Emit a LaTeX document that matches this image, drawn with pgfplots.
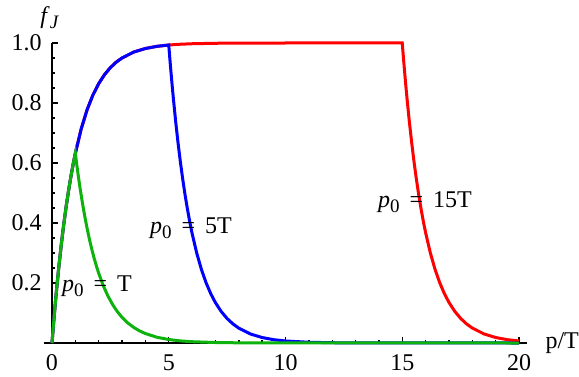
\documentclass[border=0pt]{standalone}
\usepackage{pgfplots}
\pgfplotsset{compat=1.18}
\usepackage{fontspec}
\setmainfont{Liberation Serif}
\definecolor{mgreen}{rgb}{0.05,0.7,0.05}
\newcommand{\sub}[1]{\raisebox{-2.5pt}{\fontsize{9.5}{10}\selectfont #1}}
\begin{document}
\fontsize{12}{14}\selectfont
\begin{tikzpicture}
\begin{axis}[
  x=11.675pt, y=150pt,
  axis lines=middle,
  axis line style={-, line width=0.7pt},
  xmin=-0.35, xmax=20.35, ymin=0, ymax=1,
  xtick={0,5,10,15,20},
  ytick={0.2,0.4,0.6,0.8,1.0},
  minor x tick num=4,
  minor y tick num=3,
  tick align=inside,
  hide obscured x ticks=false,
  major tick length=2.8pt,
  minor tick length=1.5pt,
  tick style={black, line width=0.7pt},
  /pgf/number format/assume math mode=true,
  yticklabel style={/pgf/number format/fixed, /pgf/number format/fixed zerofill, /pgf/number format/precision=1, font=\fontsize{12}{14}\selectfont, anchor=east, xshift=-1pt},
  xticklabel style={font=\fontsize{12}{14}\selectfont, anchor=north, yshift=-1.5pt},
  clip=false,
  every axis plot/.append style={line width=1.5pt},
]
\addplot[red] coordinates {
(0,0) (0.05,0.0488) (0.1,0.0952) (0.15,0.1393) (0.2,0.1813) (0.3,0.2592) (0.4,0.3297) (0.5,0.3935) (0.6,0.4512) (0.7,0.5034) (0.8,0.5507) (0.9,0.5934) (1,0.6321) (1.25,0.7135) (1.5,0.7769) (1.75,0.8262) (2,0.8647) (2.25,0.8946) (2.5,0.9179) (2.75,0.9361) (3,0.9502) (3.5,0.9698) (4,0.9817) (4.5,0.9889) (5,0.9933) (5.5,0.9959) (6,0.9975) (7,0.9991) (8,0.9997) (9,0.9999) (10,1.0) (15,1.0)
(15.05,0.9512) (15.1,0.9048) (15.15,0.8607) (15.2,0.8187) (15.3,0.7408) (15.4,0.6703) (15.5,0.6065) (15.6,0.5488) (15.7,0.4966) (15.8,0.4493) (15.9,0.4066) (16,0.3679) (16.2,0.3012) (16.4,0.2466) (16.6,0.2019) (16.8,0.1653) (17,0.1353) (17.25,0.1054) (17.5,0.0821) (17.75,0.0639) (18,0.0498) (18.5,0.0302) (19,0.0183) (19.5,0.0111) (20,0.0067)
};
\addplot[blue] coordinates {
(0,0) (0.05,0.0488) (0.1,0.0952) (0.15,0.1393) (0.2,0.1813) (0.3,0.2592) (0.4,0.3297) (0.5,0.3935) (0.6,0.4512) (0.7,0.5034) (0.8,0.5507) (0.9,0.5934) (1,0.6321) (1.25,0.7135) (1.5,0.7769) (1.75,0.8262) (2,0.8647) (2.25,0.8946) (2.5,0.9179) (2.75,0.9361) (3,0.9502) (3.5,0.9698) (4,0.9817) (4.5,0.9889) (5,0.9933)
(5.05,0.9448) (5.1,0.8988) (5.15,0.8549) (5.2,0.8132) (5.3,0.7358) (5.4,0.6658) (5.5,0.6024) (5.6,0.5451) (5.7,0.4933) (5.8,0.4463) (5.9,0.4039) (6,0.3654) (6.2,0.2992) (6.4,0.2449) (6.6,0.2005) (6.8,0.1642) (7,0.1344) (7.25,0.1047) (7.5,0.0815) (7.75,0.0635) (8,0.0495) (8.5,0.0300) (9,0.0182) (9.5,0.0110) (10,0.0067) (11,0.0025) (12,0.0009) (13,0.0003) (14,0.0001) (20,0)
};
\addplot[mgreen] coordinates {
(0,0) (0.05,0.0488) (0.1,0.0952) (0.15,0.1393) (0.2,0.1813) (0.3,0.2592) (0.4,0.3297) (0.5,0.3935) (0.6,0.4512) (0.7,0.5034) (0.8,0.5507) (0.9,0.5934) (1,0.6321)
(1.05,0.6013) (1.1,0.5719) (1.15,0.5440) (1.2,0.5175) (1.3,0.4683) (1.4,0.4237) (1.5,0.3834) (1.6,0.3469) (1.7,0.3139) (1.8,0.2840) (1.9,0.2570) (2,0.2325) (2.2,0.1904) (2.4,0.1559) (2.6,0.1276) (2.8,0.1045) (3,0.0855) (3.25,0.0666) (3.5,0.0519) (3.75,0.0404) (4,0.0315) (4.5,0.0191) (5,0.0116) (5.5,0.0070) (6,0.0043) (7,0.0016) (8,0.0006) (10,0.0001) (20,0)
};
\node at (axis cs:1.93,0.19) {\textit{p}\sub{0}\hspace{5pt}=\hspace{5pt}T};
\node at (axis cs:5.95,0.383) {\textit{p}\sub{0}\hspace{5pt}=\hspace{5pt}5T};
\node at (axis cs:15.97,0.47) {\textit{p}\sub{0}\hspace{5pt}=\hspace{5pt}15T};
\node at (axis cs:-0.1,1) [anchor=south, yshift=3pt] {\textit{f}\sub{\textit{J}}};
\node at (axis cs:20.35,0) [anchor=west, xshift=5pt] {p/T};
\coordinate (O) at (axis cs:0,0);
\end{axis}
\pgfresetboundingbox
\path[use as bounding box] ([shift={(-26pt,-16.5pt)}]O) rectangle ++(289.5pt,188pt);
\end{tikzpicture}
\end{document}
